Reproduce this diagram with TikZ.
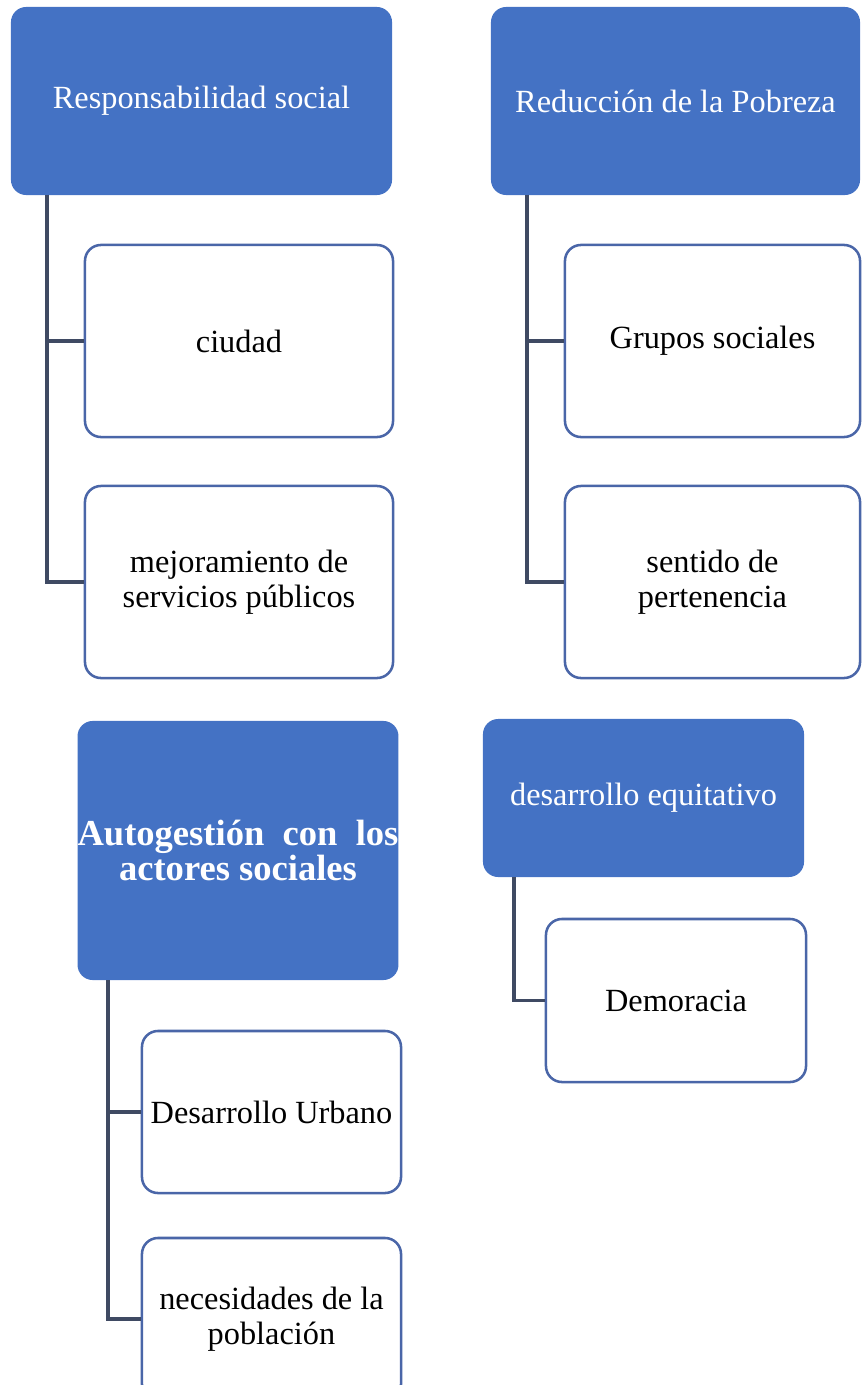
\documentclass[tikz,border=0pt]{standalone}
\usepackage{fontspec}
\setmainfont{Liberation Serif}
\definecolor{headblue}{HTML}{4472C4}
\definecolor{leafline}{HTML}{4A66A8}
\definecolor{branchline}{HTML}{3F4A63}
\begin{document}
\begin{tikzpicture}[x=0.025cm,y=-0.025cm,
    head/.style={fill=headblue,text=white,rounded corners=0.38cm,align=center,
      inner sep=0pt,font=\fontsize{23}{24.5}\selectfont},
    leaf/.style={draw=leafline,line width=1.8pt,fill=white,rounded corners=0.4cm,
      align=center,inner sep=0pt,font=\fontsize{23}{24.5}\selectfont},
    branch/.style={draw=branchline,line width=2.5pt}]
  \useasboundingbox (0,0) rectangle (862,1385);
  \draw
    (201.5,101) node[head,minimum width=9.525cm,minimum height=4.7cm] (rs){Responsabilidad social}
    (675.5,101) node[head,minimum width=9.225cm,minimum height=4.7cm] (rp){Reducción de la Pobreza}
    (238,850.5) node[head,minimum width=8cm,minimum height=6.475cm,
      font=\fontsize{26}{23}\selectfont\bfseries] (ag){Autogestión\ \ con\ \ los\\actores sociales}
    (643.5,798) node[head,minimum width=8.025cm,minimum height=3.95cm] (de){desarrollo equitativo};
  \draw
    (239,341) node[leaf,minimum width=7.7cm,minimum height=4.8cm] (ciudad){ciudad}
    (239,582) node[leaf,minimum width=7.7cm,minimum height=4.8cm] (mejora){mejoramiento de\\servicios públicos}
    (712.5,341) node[leaf,minimum width=7.375cm,minimum height=4.8cm] (grupos){Grupos sociales}
    (712.5,582) node[leaf,minimum width=7.375cm,minimum height=4.8cm] (sentido){sentido de\\pertenencia}
    (271.5,1112) node[leaf,minimum width=6.475cm,minimum height=4.05cm] (urbano){Desarrollo Urbano}
    (271.5,1319) node[leaf,minimum width=6.475cm,minimum height=4.05cm] (necesidad){necesidades de la\\población}
    (676,1000.5) node[leaf,minimum width=6.5cm,minimum height=4.075cm] (demo){Demoracia};
  \draw
    (47,195) coordinate (t1)
    (527,195) coordinate (t2)
    (108,980) coordinate (t3)
    (514,877) coordinate (t4);
  \begin{scope}[branch]
    \draw (t1) |- (ciudad.west);
    \draw (t1) |- (mejora.west);
    \draw (t2) |- (grupos.west);
    \draw (t2) |- (sentido.west);
    \draw (t3) |- (urbano.west);
    \draw (t3) |- (necesidad.west);
    \draw (t4) |- (demo.west);
  \end{scope}
\end{tikzpicture}
\end{document}
